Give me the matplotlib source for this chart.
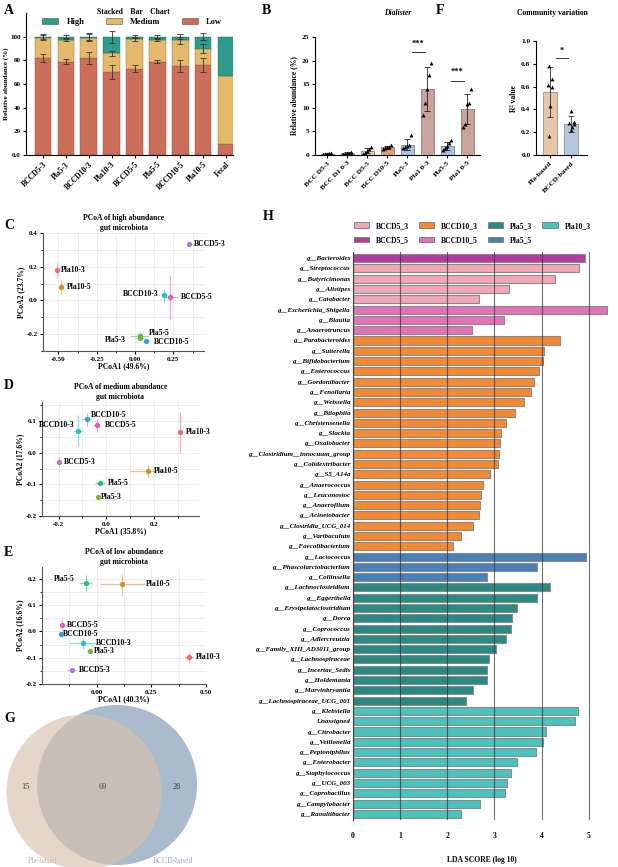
import numpy as np
import matplotlib
matplotlib.use('Agg')
import matplotlib.pyplot as plt
from matplotlib.patches import Circle, Patch

plt.rcParams['font.family'] = ['Liberation Serif', 'DejaVu Serif']
plt.rcParams['font.weight'] = 'bold'
plt.rcParams['axes.labelweight'] = 'bold'
plt.rcParams['axes.titleweight'] = 'bold'
plt.rcParams['axes.unicode_minus'] = False
plt.rcParams['axes.linewidth'] = 0.8
plt.rcParams['font.size'] = 5
plt.rcParams['xtick.major.width'] = 0.8
plt.rcParams['ytick.major.width'] = 0.8
plt.rcParams['xtick.major.size'] = 2.5
plt.rcParams['ytick.major.size'] = 2.5
plt.rcParams['xtick.major.pad'] = 1.5
plt.rcParams['ytick.major.pad'] = 1.5

# ---------------- data ----------------
# A: stacked relative abundance
a_groups = ['BCCD5-3', 'Pla5-3', 'BCCD10-3', 'Pla10-3', 'BCCD5-5', 'Pla5-5', 'BCCD10-5', 'Pla10-5', 'Fecal']
a_low = [82, 79, 82, 70, 73, 79, 75, 76, 9]
a_medium = [17, 18, 17, 16, 25, 18, 22, 14, 58]
a_high = [1, 3, 1, 14, 2, 3, 3, 10, 33]
a_low_err = [3, 2, 5, 6, 3, 1, 5, 6, 0]
a_med_err = [2, 1, 3, 2, 2, 1, 3, 4, 0]
a_high_err = [2, 1, 3, 5, 1, 1, 2, 3, 0]
a_ytick_labels = ['0.0', '20', '40', '60', '80', '100']

# B: Dialister
b_groups = ['BCC D5-3', 'BCC D1 0-3', 'BCC D5-5', 'BCC D10-5', 'Pla5-3', 'Pla1 0-3', 'Pla5-5', 'Pla1 0-5']
b_mean = [0.3, 0.4, 0.95, 1.65, 2.2, 14.0, 1.9, 9.7]
b_err = [0.1, 0.2, 0.6, 0.3, 1.1, 4.7, 0.8, 3.2]
b_points = [[0.2, 0.3, 0.3, 0.35, 0.4],
            [0.2, 0.3, 0.4, 0.5, 0.7],
            [0.3, 0.5, 0.9, 1.3, 1.7],
            [1.3, 1.5, 1.6, 1.7, 2.2],
            [1.5, 1.8, 2.0, 2.2, 4.3],
            [8.5, 11.0, 14.0, 17.0, 19.5],
            [1.0, 1.5, 2.0, 2.5, 3.2],
            [6.0, 6.6, 10.8, 11.0, 14.0]]
b_colors = ['#8c8c8c', '#8c8c8c', '#E9C9B4', '#E39F73', '#A9C3DF', '#C9A39B', '#A9C3DF', '#C9A39B']

# F: community variation
f_groups = ['Pla-based', 'BCCD-based']
f_mean = [0.55, 0.275]
f_err = [0.22, 0.07]
f_points = [[0.78, 0.67, 0.61, 0.60, 0.43, 0.17],
            [0.39, 0.29, 0.28, 0.27, 0.25, 0.22]]

# PCoA (C, D, E)
pcoa_names = ['BCCD5-3', 'Pla10-3', 'Pla10-5', 'BCCD10-3', 'BCCD5-5', 'Pla5-5', 'Pla5-3', 'BCCD10-5']
pcoa_colors = ['#A77BD6', '#F26B6B', '#C8962A', '#27C2C2', '#E45DB5', '#2DBE6C', '#7DB428', '#3C9BE0']
c_x = [0.355, -0.51, -0.48, 0.19, 0.23, 0.03, 0.03, 0.07]
c_y = [0.334, 0.18, 0.08, 0.03, 0.02, -0.21, -0.22, -0.24]
c_xerr = [0.01, 0.01, 0.01, 0.02, 0.05, 0.06, 0.03, 0.02]
c_yerr = [0.01, 0.04, 0.04, 0.04, 0.13, 0.02, 0.01, 0.01]
d_x = [-0.20, 0.31, 0.175, -0.12, -0.04, -0.027, -0.036, -0.082]
d_y = [-0.03, 0.065, -0.058, 0.07, 0.086, -0.096, -0.14, 0.105]
d_xerr = [0.005, 0.01, 0.074, 0.02, 0.015, 0.02, 0.005, 0.02]
d_yerr = [0.015, 0.065, 0.02, 0.05, 0.02, 0.005, 0.005, 0.02]
e_x = [-0.115, 0.42, 0.115, -0.063, -0.157, -0.05, -0.032, -0.165]
e_y = [-0.147, -0.098, 0.18, -0.045, 0.026, 0.185, -0.075, -0.008]
e_xerr = [0.02, 0.02, 0.10, 0.06, 0.005, 0.03, 0.01, 0.005]
e_yerr = [0.005, 0.02, 0.04, 0.02, 0.02, 0.03, 0.005, 0.005]

# G: venn counts
venn_counts = [15, 69, 28]
venn_names = ['Pla-based', 'BCCD-based']

# H: LEfSe
lda_features = ['g__Bacteroides', 'g__Streptococcus', 'g__Butyricimonas', 'g__Alistipes', 'g__Catabacter',
                'g__Escherichia_Shigella', 'g__Blautia', 'g__Anaerotruncus', 'g__Parabacteroides',
                'g__Sutterella', 'g__Bifidobacterium', 'g__Enterococcus', 'g__Gordonibacter', 'g__Fenollaria',
                'g__Weissella', 'g__Bilophila', 'g__Christensenella', 'g__Slackia', 'g__Oxalobacter',
                'g__Clostridium__innocuum_group', 'g__Colidextribacter', 'g__S5_A14a', 'g__Anaerococcus',
                'g__Leuconostoc', 'g__Anaerofilum', 'g__Acinetobacter', 'g__Clostridia_UCG_014',
                'g__Varibaculum', 'g__Faecalibacterium', 'g__Lactococcus', 'g__Phascolarctobacterium',
                'g__Collinsella', 'g__Lachnoclostridium', 'g__Eggerthella', 'g__Erysipelatoclostridium',
                'g__Dorea', 'g__Coprococcus', 'g__Adlercreutzia', 'g__Family_XIII_AD3011_group',
                'g__Lachnospiraceae', 'g__Incertae_Sedis', 'g__Holdemania', 'g__Marvinbryantia',
                'g__Lachnospiraceae_UCG_001', 'g__Klebsiella', 'Unassigned', 'g__Citrobacter',
                'g__Veillonella', 'g__Peptoniphilus', 'g__Enterobacter', 'g__Staphylococcus', 'g__UCG_003',
                'g__Coprobacillus', 'g__Campylobacter', 'g__Raoultibacter']
lda_scores = [4.92, 4.80, 4.29, 3.30, 2.67, 5.38, 3.21, 2.53, 4.40, 4.06, 4.03, 3.95, 3.84, 3.77, 3.63,
              3.43, 3.25, 3.14, 3.12, 3.09, 3.07, 2.91, 2.76, 2.72, 2.70, 2.68, 2.54, 2.28, 2.13,
              4.95, 3.90, 2.85, 4.17, 3.90, 3.47, 3.37, 3.34, 3.25, 3.04, 2.89, 2.84, 2.84, 2.54, 2.39,
              4.78, 4.71, 4.10, 4.02, 3.89, 3.47, 3.34, 3.26, 3.22, 2.69, 2.28]
lda_groups = (['BCCD5_5'] + ['BCCD5_3'] * 4 + ['BCCD10_5'] * 3 + ['BCCD10_3'] * 21 + ['Pla5_5'] * 3
              + ['Pla5_3'] * 12 + ['Pla10_3'] * 11)
lda_palette = {'BCCD5_3': '#F2A7B4', 'BCCD10_3': '#F28A33', 'Pla5_3': '#2A8A82', 'Pla10_3': '#4BC2BC',
               'BCCD5_5': '#B23C9C', 'BCCD10_5': '#E273B4', 'Pla5_5': '#4A80B8'}

# ---------------- figure ----------------
W, H = 618, 867
fig = plt.figure(figsize=(W / 100, H / 100), dpi=100)


def px_axes(l, t, r, b):
    return fig.add_axes([l / W, 1 - b / H, (r - l) / W, (b - t) / H])


def letter(x, y, s):
    fig.text(x / W, 1 - y / H, s, fontsize=10, fontweight='bold', va='center', ha='left')


def clean(ax):
    ax.spines['top'].set_visible(False)
    ax.spines['right'].set_visible(False)


# ---- G: venn (drawn first so it sits below panel E's labels) ----
ax = px_axes(0, 690, 260, 867)
ax.set_xlim(0, 260)
ax.set_ylim(867, 690)
ax.axis('off')
ax.add_patch(Circle((117, 785), 80, facecolor='#A9BBCC', edgecolor='none'))
ax.add_patch(Circle((84, 792), 77.5, facecolor='#D8C2AD', edgecolor='none', alpha=0.67))
for xv, n in zip([25, 103, 177], venn_counts):
    ax.text(xv, 787, str(n), ha='center', va='center', fontsize=6, fontweight='normal', color='#444')
ax.text(43, 861, venn_names[0], ha='center', va='center', fontsize=5.5, fontweight='normal', color='#C9B5A2')
ax.text(173, 861, venn_names[1], ha='center', va='center', fontsize=5.5, fontweight='normal', color='#9AA7B6')

# ---- A ----
ax = px_axes(26, 13, 233, 155)
clean(ax)
xa = np.arange(len(a_groups))
low = np.array(a_low)
med_top = low + np.array(a_medium)
high_top = med_top + np.array(a_high)
ax.bar(xa, a_low, width=0.72, color='#CC6F5A', edgecolor='#8a4a3c', lw=0.3)
ax.bar(xa, a_medium, bottom=low, width=0.72, color='#E4B96C', edgecolor='#8a6a3c', lw=0.3)
ax.bar(xa, a_high, bottom=med_top, width=0.72, color='#2E9B8C', edgecolor='#1e6a60', lw=0.3)
for tops, errs in [(low, a_low_err), (med_top, a_med_err), (high_top, a_high_err)]:
    sel = np.array(errs) > 0
    ax.errorbar(xa[sel], tops[sel], yerr=np.array(errs)[sel], fmt='none', ecolor='#333333',
                elinewidth=0.6, capsize=2, capthick=0.6)
ax.set_xlim(-0.74, 8.3)
ax.set_ylim(0, 120)
ax.set_yticks([0, 20, 40, 60, 80, 100], labels=a_ytick_labels)
ax.set_xticks(xa)
ax.set_xticklabels(a_groups, rotation=45, ha='right', rotation_mode='anchor', fontsize=5.5)
ax.tick_params(axis='y', labelsize=5)
ax.set_ylabel('Relative abundance (%)', fontsize=5, labelpad=1)
fig.text(133 / W, 1 - 12 / H, 'Stacked    Bar    Chart', fontsize=5.5, ha='center', va='center')
handles = [Patch(facecolor='#2E9B8C', edgecolor='#555', lw=0.4, label='High'),
           Patch(facecolor='#E4B96C', edgecolor='#555', lw=0.4, label='Medium'),
           Patch(facecolor='#CC6F5A', edgecolor='#555', lw=0.4, label='Low')]
fig.legend(handles=handles, loc='center left', bbox_to_anchor=(38 / W, 1 - 22 / H), ncol=3,
           frameon=False, fontsize=6, handlelength=1.9, handleheight=0.7, handletextpad=1.0,
           columnspacing=2.6, borderpad=0)

# ---- B ----
ax = px_axes(315, 37, 480, 155)
clean(ax)
xb = np.arange(len(b_groups))
ax.bar(xb, b_mean, width=0.65, color=b_colors, edgecolor='#555555', lw=0.4)
ax.errorbar(xb, b_mean, yerr=b_err, fmt='none', ecolor='#222222', elinewidth=0.6, capsize=2, capthick=0.6)
jit = [-0.18, -0.09, 0.0, 0.09, 0.18]
for i, pts in enumerate(b_points):
    ax.scatter(i + np.array(jit), pts, marker='^', s=8, color='black', zorder=4, linewidths=0)
ax.set_xlim(-0.6, 7.65)
ax.set_ylim(0, 25)
ax.set_yticks([0, 5, 10, 15, 20, 25])
ax.set_xticks(xb)
ax.set_xticklabels(b_groups, rotation=45, ha='right', rotation_mode='anchor', fontsize=5.3)
ax.tick_params(labelsize=5.3)
ax.set_ylabel('Relative abundance (%)', fontsize=5.5, labelpad=3)
ax.set_title('Dialister', fontsize=5.5, style='italic', y=1.12)
for (x0, x1, ly) in [(4.25, 4.9, 21.8), (6.2, 6.85, 15.7)]:
    ax.plot([x0, x1], [ly, ly], color='#333333', lw=0.7)
    ax.text((x0 + x1) / 2, ly + 1.0, '***', ha='center', va='bottom', fontsize=6)

# ---- F ----
ax = px_axes(536, 41, 587, 155)
clean(ax)
xf = np.arange(len(f_groups))
ax.bar(xf, f_mean, width=0.7, color=['#E8C7A8', '#B5C7DC'], edgecolor='#666666', lw=0.4)
ax.errorbar(xf, f_mean, yerr=f_err, fmt='none', ecolor='#333333', elinewidth=0.6, capsize=2, capthick=0.6)
jit6 = [-0.03, 0.08, -0.12, 0.1, 0.0, -0.05]
for i, pts in enumerate(f_points):
    ax.scatter(i + np.array(jit6) + (0.04 if i else 0), pts, marker='^', s=8, color='black', zorder=4,
               linewidths=0)
ax.plot([0.29, 0.86], [0.85, 0.85], color='#333333', lw=0.7)
ax.text(0.57, 0.88, '*', ha='center', va='bottom', fontsize=6)
ax.set_xlim(-0.67, 1.76)
ax.set_ylim(0, 1.0)
ax.set_yticks([0, 0.2, 0.4, 0.6, 0.8, 1.0])
ax.set_yticklabels(['0.0', '0.2', '0.4', '0.6', '0.8', '1.0'])
ax.set_xticks(xf)
ax.set_xticklabels(f_groups, rotation=45, ha='right', rotation_mode='anchor', fontsize=5.3)
ax.tick_params(labelsize=5.3)
ax.set_ylabel('R² value', fontsize=5.5, labelpad=2)
fig.text(552 / W, 1 - 13 / H, 'Community variation', fontsize=5.5, ha='center', va='center')


# ---- PCoA panels ----
def pcoa(ax, xs, ys, xe, ye, offsets, title, xlabel, ylabel):
    clean(ax)
    ax.spines['bottom'].set_color('#555')
    ax.spines['left'].set_color('#555')
    for i, name in enumerate(pcoa_names):
        c = pcoa_colors[i]
        ax.errorbar(xs[i], ys[i], xerr=xe[i], yerr=ye[i], fmt='none', ecolor=c, elinewidth=0.9, alpha=0.55)
        ax.plot(xs[i], ys[i], 'o', ms=2.8, color=c, zorder=4)
        dx, dy, ha = offsets[i]
        ax.annotate(name, (xs[i], ys[i]), xytext=(dx, dy), textcoords='offset points', ha=ha, va='center',
                    fontsize=5.5)
    ax.grid(True, which='both', color='#e6e6e6', lw=0.5)
    ax.set_axisbelow(True)
    ax.tick_params(which='minor', length=1.5, width=0.6)
    ax.tick_params(labelsize=5)
    ax.set_title(title, fontsize=5.5, pad=2.5, linespacing=1.3)
    ax.set_xlabel(xlabel, fontsize=5.5, labelpad=0.5)
    ax.set_ylabel(ylabel, fontsize=5.5, labelpad=0.5)


ax = px_axes(43, 233, 204, 351)
c_off = [(3, 0, 'left'), (3, 0, 'left'), (4, 0, 'left'), (-4, 1, 'right'), (8, 0, 'left'),
         (7, 2, 'left'), (-10, -2, 'right'), (6, -1, 'left')]
pcoa(ax, c_x, c_y, c_xerr, c_yerr, c_off, 'PCoA of high abundance\ngut microbiota', 'PCoA1 (49.6%)',
     'PCoA2 (23.7%)')
ax.set_xlim(-0.6, 0.45)
ax.set_ylim(-0.3, 0.4)
ax.set_xticks([-0.5, -0.25, 0.0, 0.25], labels=['-0.50', '-0.25', '0.00', '0.25'])
ax.set_xticks([-0.375, -0.125, 0.125, 0.375], minor=True)
ax.set_yticks([-0.2, 0.0, 0.2, 0.4], labels=['-0.2', '0.0', '0.2', '0.4'])
ax.set_yticks([-0.3, -0.1, 0.1, 0.3], minor=True)

ax = px_axes(42, 402, 199, 516)
d_off = [(4, 0, 'left'), (4, 0, 'left'), (4, 0, 'left'), (-2, 4, 'right'), (6, 0, 'left'),
         (6, 0, 'left'), (2, 0, 'left'), (3, 3, 'left')]
pcoa(ax, d_x, d_y, d_xerr, d_yerr, d_off, 'PCoA of medium abundance\ngut microbiota', 'PCoA1 (35.8%)',
     'PCoA2 (17.6%)')
ax.set_xlim(-0.27, 0.39)
ax.set_ylim(-0.2, 0.16)
ax.set_xticks([-0.2, 0.0, 0.2], labels=['-0.2', '0.0', '0.2'])
ax.set_xticks([-0.1, 0.1, 0.3], minor=True)
ax.set_yticks([-0.2, -0.1, 0.0, 0.1], labels=['-0.2', '-0.1', '0.0', '0.1'])
ax.set_yticks([-0.15, -0.05, 0.05, 0.15], minor=True)

ax = px_axes(42, 567, 206, 684)
e_off = [(5, 0, 'left'), (5, 0, 'left'), (17, 0, 'left'), (9, 0, 'left'), (3, 0, 'left'),
         (-8, 3, 'right'), (3, 0, 'left'), (2, 0, 'left')]
pcoa(ax, e_x, e_y, e_xerr, e_yerr, e_off, 'PCoA of low abundance\ngut microbiota', 'PCoA1 (40.3%)',
     'PCoA2 (16.6%)')
ax.set_xlim(-0.25, 0.5)
ax.set_ylim(-0.2, 0.245)
ax.set_xticks([0.0, 0.25, 0.5], labels=['0.00', '0.25', '0.50'])
ax.set_xticks([-0.125, 0.125, 0.375], minor=True)
ax.set_yticks([-0.2, -0.1, 0.0, 0.1, 0.2], labels=['-0.2', '-0.1', '0.0', '0.1', '0.2'])
ax.set_yticks([-0.15, -0.05, 0.05, 0.15], minor=True)

# ---- H: LDA ----
ax = px_axes(353, 252, 610, 820)
yh = np.arange(len(lda_features))
ax.barh(yh, lda_scores, height=0.78, color=[lda_palette[g] for g in lda_groups], edgecolor='#8a8a8a', lw=0.8)
ax.set_ylim(len(lda_features) - 0.4, -0.6)
ax.set_xlim(0, 5.45)
ax.set_yticks(yh)
ax.set_yticklabels(lda_features, fontsize=5, style='italic')
ax.set_xticks([0, 1, 2, 3, 4, 5])
ax.tick_params(axis='y', length=0, pad=2)
ax.tick_params(axis='x', length=0, pad=9, labelsize=5.5)
for s in ['top', 'right', 'bottom']:
    ax.spines[s].set_visible(False)
ax.spines['left'].set_color('#555')
ax.set_axisbelow(False)
ax.grid(axis='x', color='#333333', lw=0.8, alpha=0.7)
ax.set_xlabel('LDA SCORE (log 10)', fontsize=5.5, labelpad=11)
order = ['BCCD5_3', 'BCCD5_5', 'BCCD10_3', 'BCCD10_5', 'Pla5_3', 'Pla5_5', 'Pla10_3']
h_handles = [Patch(facecolor=lda_palette[g], edgecolor='#777', lw=0.6, label=g) for g in order]
fig.legend(handles=h_handles, loc='upper left', bbox_to_anchor=(350 / W, 1 - 218 / H), ncol=4,
           frameon=False, fontsize=5.5, handlelength=2.0, handleheight=0.7, handletextpad=0.9,
           columnspacing=1.3, borderpad=0, labelspacing=0.8)

letter(4, 11, 'A')
letter(262, 11, 'B')
letter(436, 11, 'F')
letter(4, 226, 'C')
letter(4, 385, 'D')
letter(4, 553, 'E')
letter(4, 718, 'G')
letter(263, 217, 'H')

fig.savefig('out.png', dpi=100)
